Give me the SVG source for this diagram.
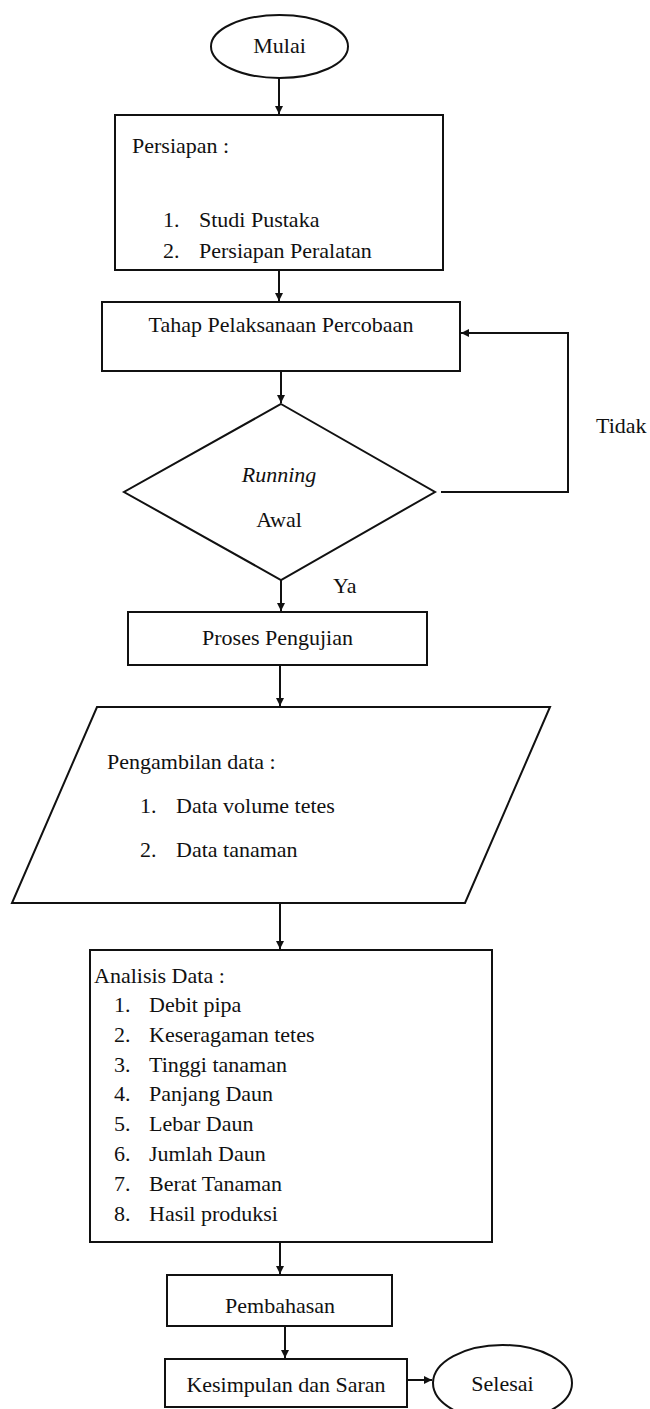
<svg xmlns="http://www.w3.org/2000/svg" width="650" height="1409" viewBox="0 0 650 1409">
<style>
.s{fill:#fff;stroke:#111;stroke-width:2}
.t{font-family:"Liberation Serif","Times New Roman",serif;font-size:22px;fill:#111}
.c{text-anchor:middle}
.i{font-style:italic}
.l{fill:none;stroke:#111;stroke-width:2}
</style>
<defs>
<marker id="a" markerUnits="userSpaceOnUse" markerWidth="10" markerHeight="10" refX="8" refY="4" orient="auto">
<path d="M0,0 L8,4 L0,8 Z" fill="#111"/>
</marker>
</defs>
<rect width="650" height="1409" fill="#fff"/>
<g id="connectors">
<line class="l" x1="279" y1="78" x2="279" y2="114" marker-end="url(#a)"/>
<line class="l" x1="279" y1="270" x2="279" y2="301" marker-end="url(#a)"/>
<line class="l" x1="281" y1="371" x2="281" y2="403" marker-end="url(#a)"/>
<polyline class="l" points="441,492 568,492 568,333 461,333" marker-end="url(#a)"/>
<line class="l" x1="281" y1="580" x2="281" y2="611" marker-end="url(#a)"/>
<line class="l" x1="280" y1="665" x2="280" y2="706" marker-end="url(#a)"/>
<line class="l" x1="280" y1="903" x2="280" y2="949" marker-end="url(#a)"/>
<line class="l" x1="280" y1="1242" x2="280" y2="1274" marker-end="url(#a)"/>
<line class="l" x1="285" y1="1326" x2="285" y2="1358" marker-end="url(#a)"/>
<line class="l" x1="407" y1="1380" x2="432" y2="1380" marker-end="url(#a)"/>
<text class="t" x="596" y="433">Tidak</text>
<text class="t" x="333" y="593">Ya</text>
</g>
<g id="mulai">
<ellipse class="s" cx="279.5" cy="46.5" rx="68.5" ry="31.5"/>
<text class="t c" x="279.5" y="53">Mulai</text>
</g>
<g id="persiapan">
<rect class="s" x="115" y="115" width="328" height="155"/>
<text class="t" x="132" y="153">Persiapan :</text>
<text class="t" x="163" y="227">1.</text>
<text class="t" x="199" y="227">Studi Pustaka</text>
<text class="t" x="163" y="258">2.</text>
<text class="t" x="199" y="258">Persiapan Peralatan</text>
</g>
<g id="tahap">
<rect class="s" x="102" y="302" width="358" height="69"/>
<text class="t c" x="281" y="332">Tahap Pelaksanaan Percobaan</text>
</g>
<g id="running">
<polygon class="s" points="281,404 435,492 281,580 124,492"/>
<text class="t c i" x="279" y="482">Running</text>
<text class="t c" x="279" y="527">Awal</text>
</g>
<g id="proses">
<rect class="s" x="128" y="612" width="299" height="53"/>
<text class="t c" x="277.5" y="645">Proses Pengujian</text>
</g>
<g id="pengambilan">
<polygon class="s" points="97,707 550,707 465,903 12,903"/>
<text class="t" x="107" y="769">Pengambilan data :</text>
<text class="t" x="140" y="813">1.</text>
<text class="t" x="176" y="813">Data volume tetes</text>
<text class="t" x="140" y="857">2.</text>
<text class="t" x="176" y="857">Data tanaman</text>
</g>
<g id="analisis">
<rect class="s" x="90" y="950" width="402" height="292"/>
<text class="t" x="94" y="983">Analisis Data :</text>
<text class="t" x="114" y="1012">1.</text><text class="t" x="149" y="1012">Debit pipa</text>
<text class="t" x="114" y="1042">2.</text><text class="t" x="149" y="1042">Keseragaman tetes</text>
<text class="t" x="114" y="1072">3.</text><text class="t" x="149" y="1072">Tinggi tanaman</text>
<text class="t" x="114" y="1101">4.</text><text class="t" x="149" y="1101">Panjang Daun</text>
<text class="t" x="114" y="1131">5.</text><text class="t" x="149" y="1131">Lebar Daun</text>
<text class="t" x="114" y="1161">6.</text><text class="t" x="149" y="1161">Jumlah Daun</text>
<text class="t" x="114" y="1191">7.</text><text class="t" x="149" y="1191">Berat Tanaman</text>
<text class="t" x="114" y="1221">8.</text><text class="t" x="149" y="1221">Hasil produksi</text>
</g>
<g id="pembahasan">
<rect class="s" x="167" y="1275" width="225" height="51"/>
<text class="t c" x="280" y="1313">Pembahasan</text>
</g>
<g id="kesimpulan">
<rect class="s" x="165" y="1359" width="242" height="48"/>
<text class="t c" x="286" y="1392">Kesimpulan dan Saran</text>
</g>
<g id="selesai">
<ellipse class="s" cx="502.5" cy="1383" rx="69.5" ry="38"/>
<text class="t c" x="502.5" y="1391">Selesai</text>
</g>
</svg>
